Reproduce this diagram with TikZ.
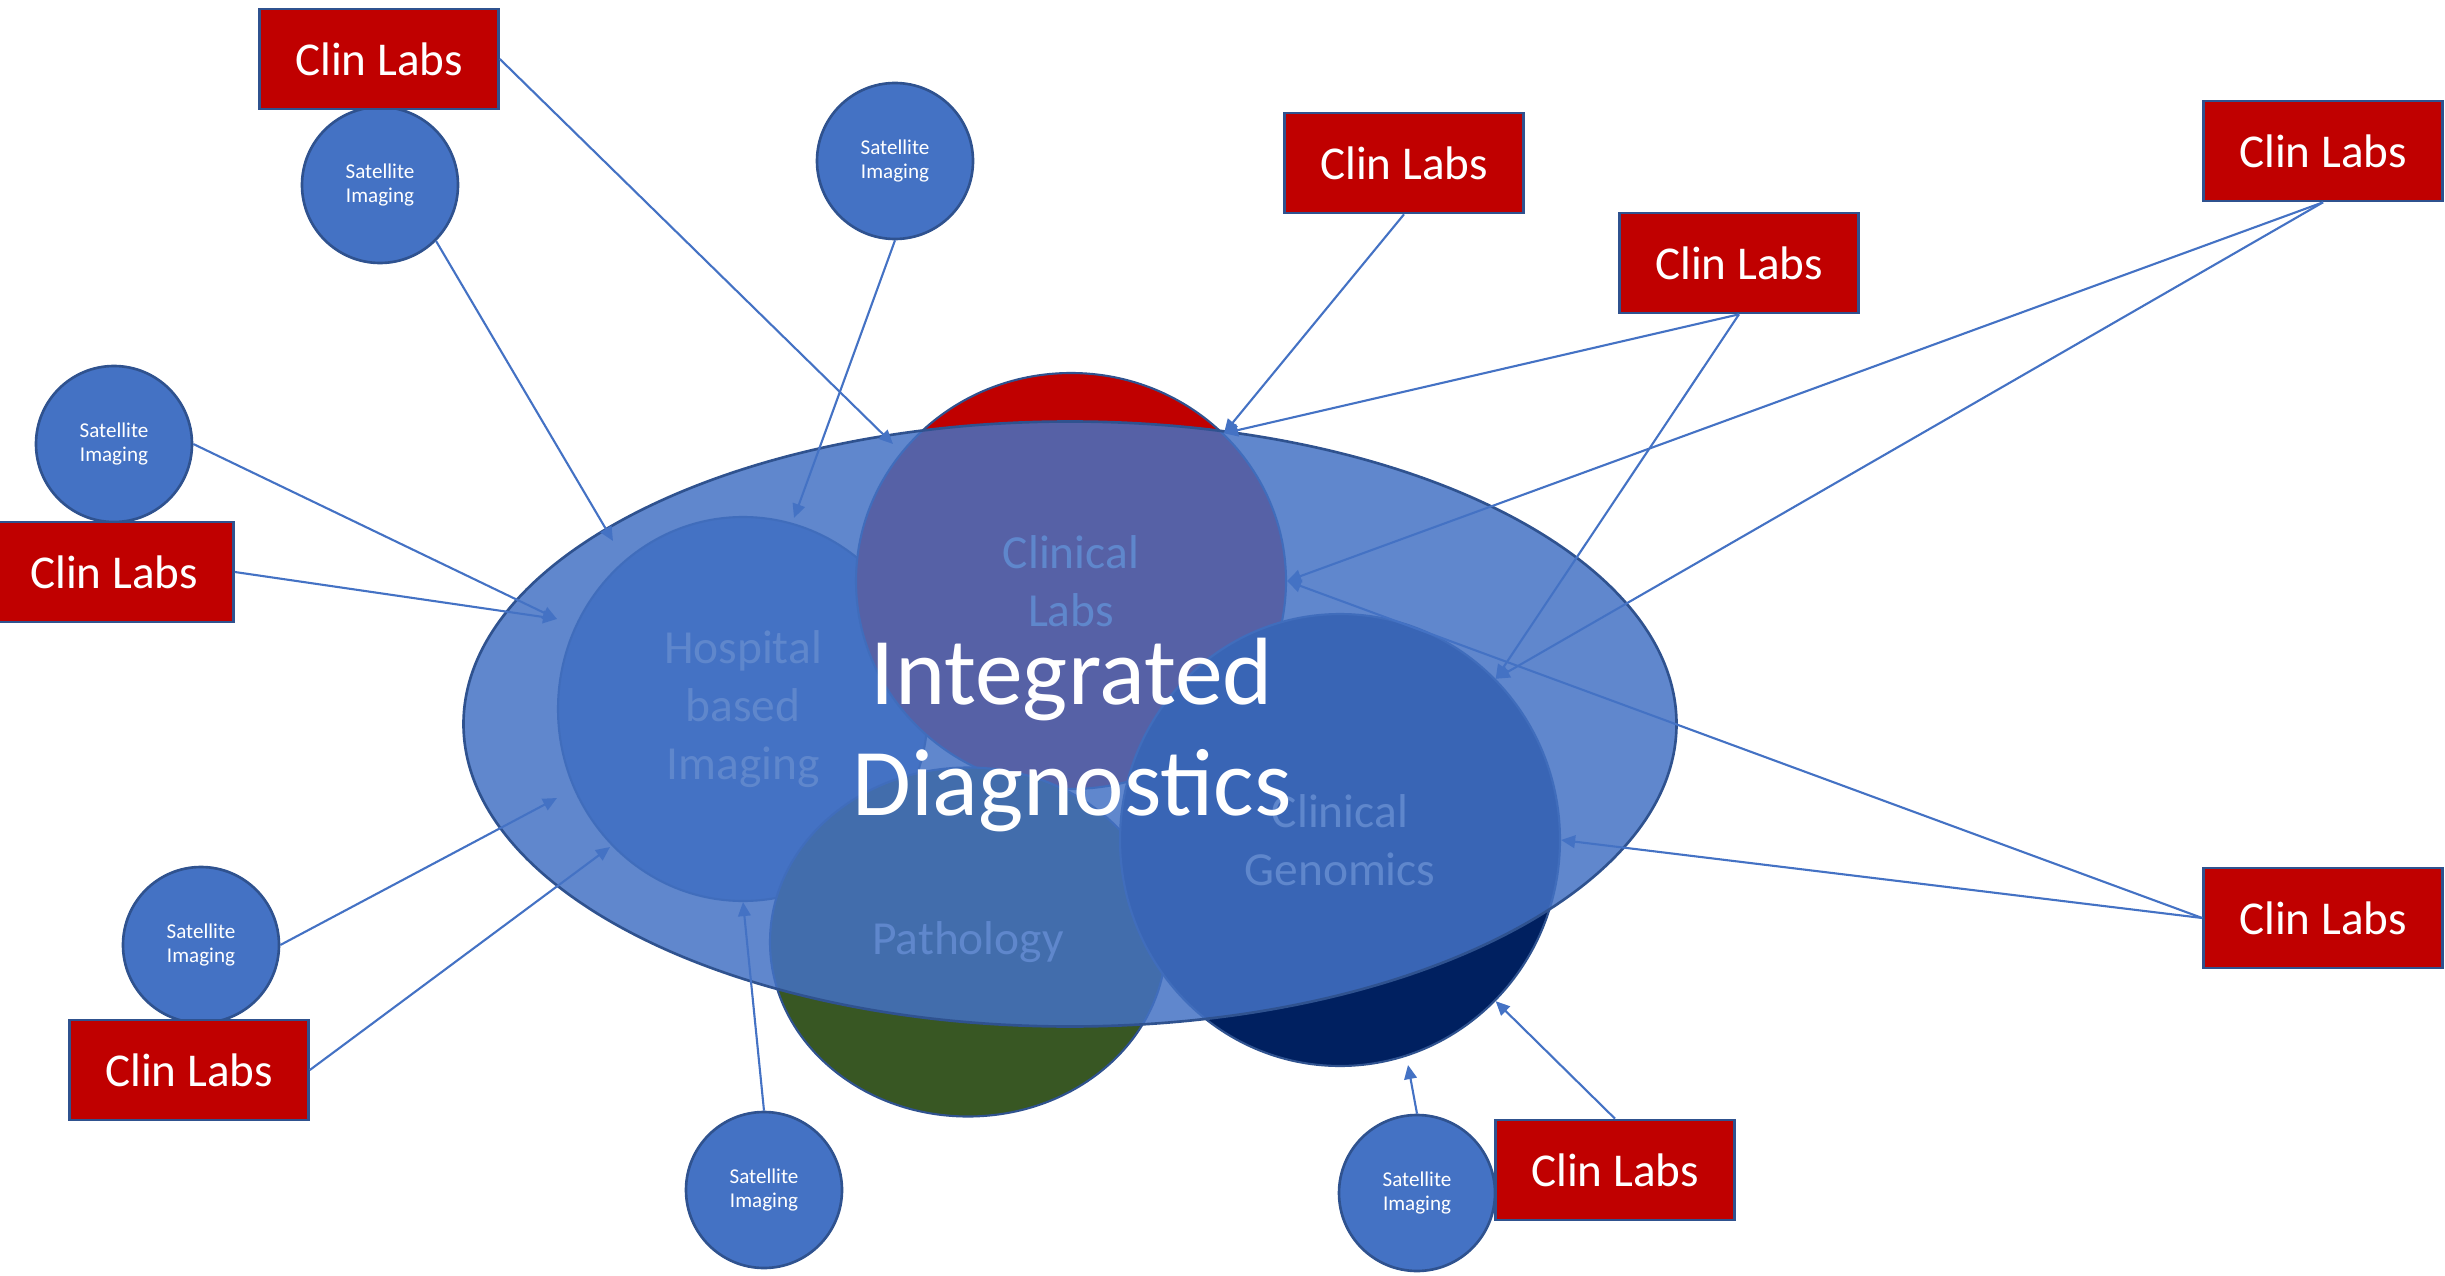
\documentclass[tikz,border=0pt]{standalone}
\usepackage{fontspec}
\setmainfont{Carlito}
\usetikzlibrary{shapes.geometric,arrows.meta}

\definecolor{accblue}{HTML}{4472C4}
\definecolor{edgeblue}{HTML}{2F528F}
\definecolor{labred}{HTML}{C00000}
\definecolor{pathgreen}{HTML}{385723}
\definecolor{gennavy}{HTML}{002060}

\tikzset{
  area/.style={ellipse, draw=edgeblue, line width=0.6pt, inner sep=0pt,
    text=white, align=center, font=\fontsize{13.5}{16.4}\selectfont},
  satcirc/.style={circle, fill=accblue, draw=edgeblue, line width=0.75pt,
    minimum size=1.56cm, inner sep=0pt, text=white, align=center,
    font=\fontsize{6}{7.1}\selectfont},
  clinbox/.style={rectangle, fill=labred, draw=edgeblue, line width=0.75pt,
    minimum width=2.39cm, minimum height=1cm, inner sep=0pt, text=white,
    font=\fontsize{13.4}{16}\selectfont},
  link/.style={draw=accblue, line width=0.6pt, -{Triangle[length=4pt,width=3.6pt]}}
}

\begin{document}
\begin{tikzpicture}
        \useasboundingbox (0,0) rectangle (24.45,12.75);
        % the four areas under the big ellipse
        \node[area, fill=accblue, minimum width=3.70cm, minimum height=3.84cm] at (7.43,5.66) (hosp) {Hospital\\based\\Imaging};
        \node[area, fill=labred, minimum width=4.30cm, minimum height=4.16cm] at (10.71,6.94) (labs) {Clinical\\Labs};
        \node[area, fill=pathgreen, minimum width=3.96cm, minimum height=3.49cm] at (9.68,3.33) (path) {Pathology};
        \node[area, fill=gennavy, minimum width=4.40cm, minimum height=4.52cm] at (13.40,4.35) (gen) {Clinical\\Genomics};
        \node[ellipse, draw=edgeblue, line width=0.75pt, fill=accblue, fill opacity=0.85,
              minimum width=12.13cm, minimum height=6.05cm, inner sep=0pt] at (10.70,5.51) (integ) {};
        \node[text=white, align=center, font=\fontsize{27.2}{31.8}\selectfont] at (10.72,5.40) (title) {Integrated\\Diagnostics};
        % satellites
        \node[satcirc] at ( 3.80,10.90) (s1) {Satellite\\Imaging};
        \node[satcirc] at ( 8.95,11.14) (s2) {Satellite\\Imaging};
        \node[satcirc] at ( 1.14, 8.31) (s3) {Satellite\\Imaging};
        \node[satcirc] at ( 2.01, 3.30) (s4) {Satellite\\Imaging};
        \node[satcirc] at ( 7.64, 0.85) (s5) {Satellite\\Imaging};
        \node[satcirc] at (14.17, 0.82) (s6) {Satellite\\Imaging};
        % labs
        \node[clinbox] at ( 3.79,12.16) (cl1) {Clin Labs};
        \node[clinbox] at (14.04,11.12) (cl2) {Clin Labs};
        \node[clinbox] at (17.39,10.12) (cl3) {Clin Labs};
        \node[clinbox] at (23.23,11.24) (cl4) {Clin Labs};
        \node[clinbox] at ( 1.14, 7.03) (cl5) {Clin Labs};
        \node[clinbox] at ( 1.89, 2.05) (cl6) {Clin Labs};
        \node[clinbox] at (23.23, 3.57) (cl7) {Clin Labs};
        \node[clinbox] at (16.15, 1.05) (cl8) {Clin Labs};
        % free arrow ends inside the ellipse
        \coordinate (ta) at ( 8.93,8.31);
        \coordinate (tb) at ( 6.13,7.34);
        \coordinate (tc) at ( 7.94,7.57);
        \coordinate (td) at ( 5.57,6.56);
        \coordinate (tf) at ( 5.57,4.77);
        \coordinate (tg) at ( 6.10,4.28);
        \coordinate (ti) at (14.08,2.10);
        \draw[link] (cl1.east) -- (ta);
        \draw[link] (s1.south east) -- (tb);
        \draw[link] (s2.south) -- (tc);
        \draw[link] (s3.east) -- (td);
        \draw[link] (cl5.east) -- (td);
        \draw[link] (s4.east) -- (tf);
        \draw[link] (cl6.east) -- (tg);
        \draw[link] (s5.north) -- (hosp.south);
        \draw[link] (s6.north) -- (ti);
        \draw[link] (cl8.north) -- (gen.-46);
        \draw[link] (cl7.west) -- (gen.east);
        \draw[link] (cl7.west) -- (labs.east);
        \draw[link] (cl4.south) -- (labs.east);
        \draw[link] (cl4.south) -- (gen.46);
        \draw[link] (cl3.south) -- (gen.46);
        \draw[link] (cl3.south) -- (labs.44);
        \draw[link] (cl2.south) -- (labs.44);
      \end{tikzpicture}
\end{document}
